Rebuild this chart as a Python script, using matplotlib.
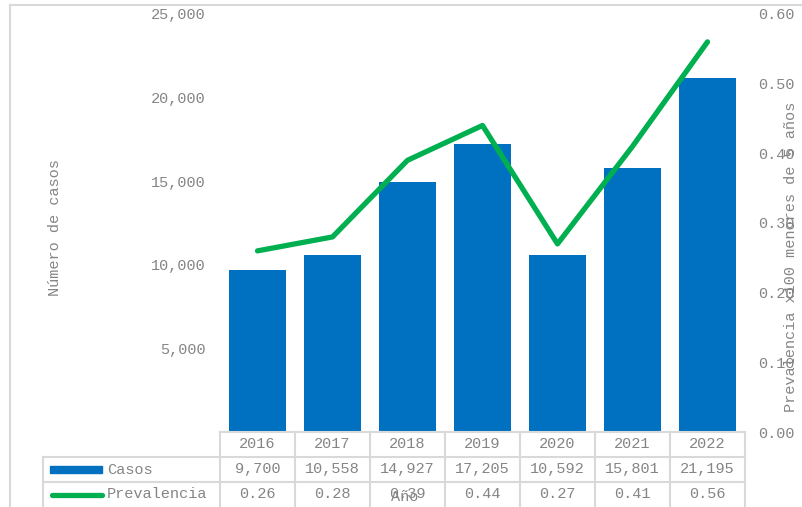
import matplotlib
matplotlib.use('Agg')
import matplotlib.pyplot as plt
from matplotlib.lines import Line2D
from matplotlib.patches import Rectangle
from matplotlib.ticker import FuncFormatter

# datos
anios = ['2016', '2017', '2018', '2019', '2020', '2021', '2022']
casos = [9700, 10558, 14927, 17205, 10592, 15801, 21195]
prevalencia = [0.26, 0.28, 0.39, 0.44, 0.27, 0.41, 0.56]

azul = '#0070C0'
verde = '#00B050'
gris = '#858585'
linea_gris = '#d9d9d9'

plt.rcParams['font.family'] = ['Liberation Mono', 'DejaVu Sans Mono']
plt.rcParams['font.size'] = 11

W, H = 802, 507
fig = plt.figure(figsize=(W / 100, H / 100), dpi=100)
ax = fig.add_axes([220 / W, 75 / H, 525 / W, 418 / H])
ax2 = ax.twinx()

x = list(range(len(anios)))
ax.bar(x, casos, width=0.77, color=azul)
ax2.plot(x, prevalencia, color=verde, lw=3.8, solid_capstyle='round', solid_joinstyle='round')

ax.set_xlim(-0.5, len(anios) - 0.5)
ax.set_ylim(0, 25000)
ax2.set_ylim(0, 0.6)
ax.set_yticks([5000, 10000, 15000, 20000, 25000])
ax.yaxis.set_major_formatter(FuncFormatter(lambda v, p: f'{int(v):,}'))
ax2.set_yticks([0, 0.1, 0.2, 0.3, 0.4, 0.5, 0.6])
ax2.yaxis.set_major_formatter(FuncFormatter(lambda v, p: f'{v:.2f}'))
ax.set_xticks([])
for a in (ax, ax2):
    for s in a.spines.values():
        s.set_visible(False)
    a.tick_params(length=0, colors=gris, labelsize=11)
ax.tick_params(axis='y', pad=10.5)
ax2.tick_params(axis='y', pad=9.5)

fig.text(55 / W, 1 - 228 / H, 'Número de casos', rotation=90, color=gris,
         ha='center', va='center', fontsize=11)
fig.text(791 / W, 1 - 257 / H, 'Prevalencia x100 menores de 5 años', rotation=90,
         color=gris, ha='center', va='center', fontsize=11)

# tabla de datos
tr = ax.get_xaxis_transform()
fila = 25 / 418
izq = -0.5 - 177 / 75
der = len(anios) - 0.5
kw = dict(color=linea_gris, lw=1.5, transform=tr, clip_on=False)
ax.add_line(Line2D([-0.5, der], [0, 0], **kw))
ax.add_line(Line2D([izq, der], [-fila, -fila], **kw))
ax.add_line(Line2D([izq, der], [-2 * fila, -2 * fila], **kw))
for k in range(len(anios) + 1):
    ax.add_line(Line2D([k - 0.5, k - 0.5], [0, -3.2 * fila], **kw))
ax.add_line(Line2D([izq, izq], [-fila, -3.2 * fila], **kw))

for i, a in enumerate(anios):
    ax.text(i, -0.5 * fila, a, transform=tr, ha='center', va='center', color=gris, clip_on=False)
    ax.text(i, -1.5 * fila, f'{casos[i]:,}', transform=tr, ha='center', va='center', color=gris, clip_on=False)
    ax.text(i, -2.5 * fila, f'{prevalencia[i]:.2f}', transform=tr, ha='center', va='center', color=gris, clip_on=False)

ax.add_patch(Rectangle((izq + 7 / 75, -1.5 * fila - 3.5 / 418), 52 / 75, 7 / 418,
                       color=azul, transform=tr, clip_on=False))
ax.add_line(Line2D([izq + 9 / 75, izq + 59 / 75], [-2.5 * fila, -2.5 * fila], color=verde,
                   lw=3.8, solid_capstyle='round', transform=tr, clip_on=False))
ax.text(izq + 64 / 75, -1.5 * fila, 'Casos', transform=tr, ha='left', va='center', color=gris, clip_on=False)
ax.text(izq + 64 / 75, -2.5 * fila, 'Prevalencia', transform=tr, ha='left', va='center', color=gris, clip_on=False)

fig.text(405 / W, 1 - 497 / H, 'Año', color=gris, ha='center', va='center', fontsize=11)

# borde del área del gráfico
fig.add_artist(Line2D([10 / W, 10 / W], [0, 1 - 5 / H], color=linea_gris, lw=1.5))
fig.add_artist(Line2D([10 / W, 1], [1 - 5 / H, 1 - 5 / H], color=linea_gris, lw=1.5))

fig.savefig('out.png', dpi=100)
